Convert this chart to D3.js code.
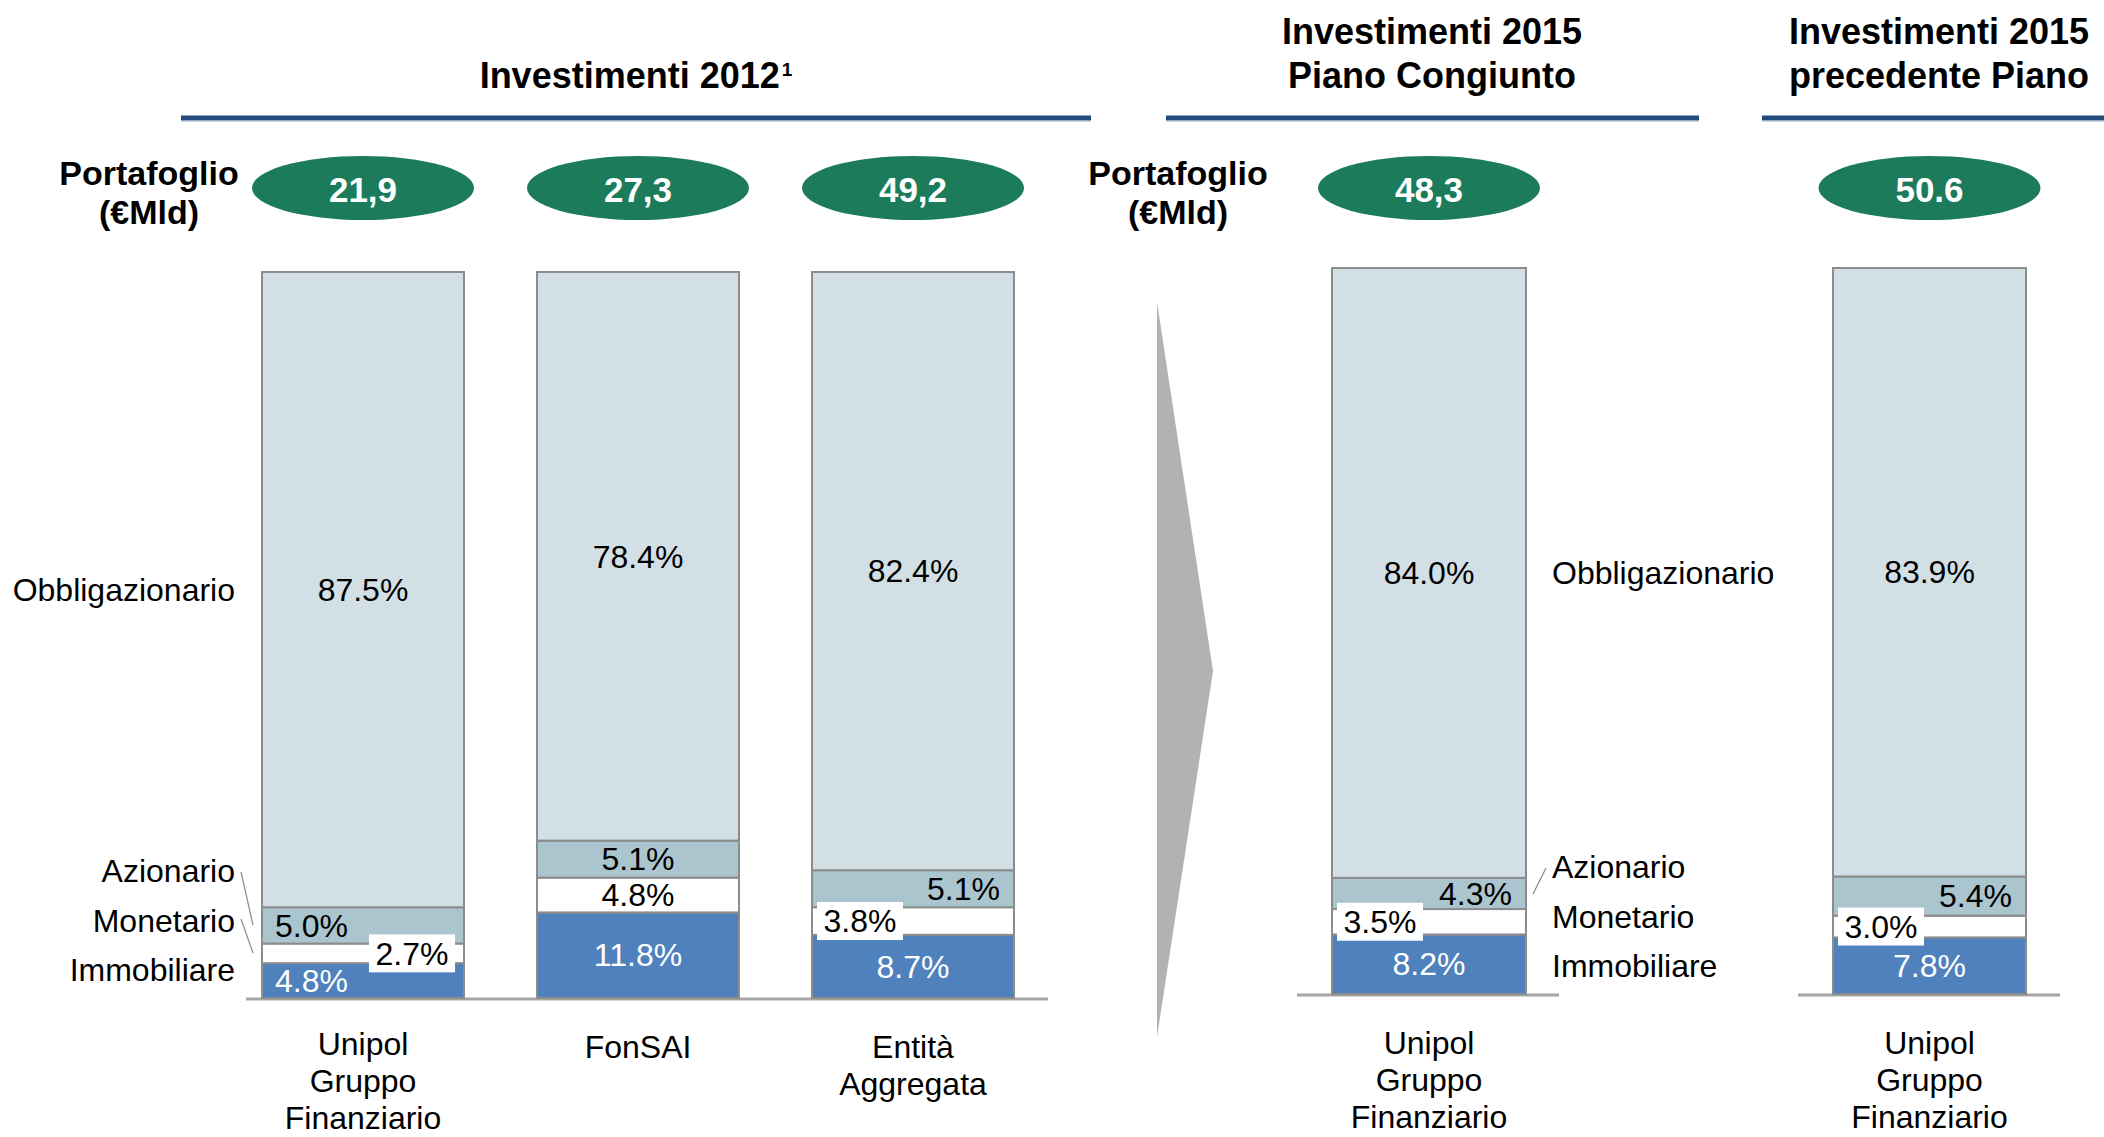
<!DOCTYPE html>
<html lang="it">
<head>
    <meta charset="UTF-8">
    <script src="https://d3js.org/d3.v7.min.js"></script>
    <title>Investimenti 2012 - 2015</title>
    <style>
        body { margin: 0; background: #fff; }
        svg { display: block; font-family: "Liberation Sans", Arial, sans-serif; }
    </style>
</head>
<body>
<svg width="2104" height="1137"></svg>
<script>
// --- data ---
const series = ["Immobiliare", "Monetario", "Azionario", "Obbligazionario"];
const categories = [
    ["Unipol", "Gruppo", "Finanziario"],
    ["FonSAI"],
    ["Entità", "Aggregata"],
    ["Unipol", "Gruppo", "Finanziario"],
    ["Unipol", "Gruppo", "Finanziario"]
];
const portafoglio = ["21,9", "27,3", "49,2", "48,3", "50.6"];
const immobiliare = [4.8, 11.8, 8.7, 8.2, 7.8];
const monetario = [2.7, 4.8, 3.8, 3.5, 3.0];
const azionario = [5.0, 5.1, 5.1, 4.3, 5.4];
const obbligazionario = [87.5, 78.4, 82.4, 84.0, 83.9];
const groupTitles = [
    ["Investimenti 2012"],
    ["Investimenti 2015", "Piano Congiunto"],
    ["Investimenti 2015", "precedente Piano"]
];
const groupBars = [[0, 1, 2], [3], [4]];
const portLabel = ["Portafoglio", "(€Mld)"];

// --- layout / style ---
const colors = {
    Immobiliare: "#4f81bd",
    Monetario: "#ffffff",
    Azionario: "#abc5ce",
    Obbligazionario: "#d2dfe5"
};
const panels = [
    {x0: 262, x1: 1014, base: 998, axis: [246, 1048], rule: [181, 1091], titleX: 636},
    {x0: 1332, x1: 1526, base: 994, axis: [1297, 1559], rule: [1166, 1699], titleX: 1432},
    {x0: 1833, x1: 2026, base: 994, axis: [1798, 2060], rule: [1762, 2104], titleX: 1939}
];
// how each percentage label sits in its segment
const labelPos = [
    ["left", "boxRight", "left", "center"],
    ["center", "center", "center", "center"],
    ["center", "boxLeft", "right", "center"],
    ["center", "boxLeft", "right", "center"],
    ["center", "boxLeft", "right", "center"]
];
const barH = 726;

const svg = d3.select("svg");
const fmt = d3.format(".1f");

const rows = categories.map((c, i) => ({
    Immobiliare: immobiliare[i],
    Monetario: monetario[i],
    Azionario: azionario[i],
    Obbligazionario: obbligazionario[i]
}));
const stacked = d3.stack().keys(series).offset(d3.stackOffsetExpand)(rows);

// scales per bar
const xOf = [], yOf = [], wOf = [];
panels.forEach((p, gi) => {
    const bars = groupBars[gi];
    const band = d3.scaleBand().domain(bars).range([p.x0, p.x1])
        .paddingInner(bars.length > 1 ? 0.2655 : 0);
    const y = d3.scaleLinear().domain([0, 1]).range([p.base, p.base - barH]);
    bars.forEach(b => { xOf[b] = band(b); wOf[b] = band.bandwidth(); yOf[b] = y; });
});

// titles and rules
panels.forEach((p, gi) => {
    const t = svg.append("text")
        .attr("text-anchor", "middle")
        .attr("font-weight", "bold")
        .attr("font-size", 36)
        .attr("fill", "#000");
    const lines = groupTitles[gi];
    lines.forEach((l, li) => {
        t.append("tspan").attr("x", p.titleX)
            .attr("y", 88 - (lines.length - 1 - li) * 44).text(l);
    });
    if (gi === 0) {
        t.append("tspan").attr("font-size", 19).attr("dx", 2).attr("dy", -12).text("1");
    }
    svg.append("line")
        .attr("x1", p.rule[0]).attr("x2", p.rule[1])
        .attr("y1", 118).attr("y2", 118)
        .attr("stroke", "#234a7d").attr("stroke-width", 5);
    svg.append("line")
        .attr("x1", p.rule[0]).attr("x2", p.rule[1])
        .attr("y1", 121).attr("y2", 121)
        .attr("stroke", "#9fb3cc").attr("stroke-width", 1);
});

// Portafoglio labels
[149, 1178].forEach(cx => {
    svg.append("text").attr("text-anchor", "middle")
        .attr("font-weight", "bold").attr("font-size", 34)
        .selectAll("tspan").data(portLabel).join("tspan")
        .attr("x", cx).attr("y", (d, i) => 185 + i * 39).text(d => d);
});

// ellipses with portfolio size
const ell = svg.append("g").selectAll("g").data(portafoglio).join("g")
    .attr("transform", (d, i) => `translate(${xOf[i] + wOf[i] / 2},188)`);
ell.append("ellipse").attr("rx", 111).attr("ry", 32).attr("fill", "#1b7b5a");
ell.append("text").attr("text-anchor", "middle").attr("dy", "0.35em").attr("y", 2)
    .attr("font-weight", "bold").attr("font-size", 35).attr("fill", "#fff")
    .text(d => d);

// arrow between groups
svg.append("path")
    .attr("d", d3.line()([[1157, 302], [1213, 671], [1157, 1037]]) + "Z")
    .attr("fill", "#b2b2b2");

// base lines
panels.forEach(p => {
    svg.append("line")
        .attr("x1", p.axis[0]).attr("x2", p.axis[1])
        .attr("y1", p.base + 1).attr("y2", p.base + 1)
        .attr("stroke", "#a6a6a6").attr("stroke-width", 3);
});

// stacked bars
const layers = svg.append("g").selectAll("g").data(stacked).join("g")
    .attr("fill", d => colors[d.key]);
layers.selectAll("rect").data(d => d).join("rect")
    .attr("x", (d, i) => xOf[i])
    .attr("width", (d, i) => wOf[i])
    .attr("y", (d, i) => yOf[i](d[1]))
    .attr("height", (d, i) => yOf[i](d[0]) - yOf[i](d[1]))
    .attr("stroke", "#8c8c8c").attr("stroke-width", 2);

// percentage labels
const labG = svg.append("g").attr("font-size", 32);
stacked.forEach((layer, si) => {
    layer.forEach((d, i) => {
        const pos = labelPos[i][si];
        const cy = yOf[i]((d[0] + d[1]) / 2);
        const val = rows[i][layer.key];
        let x = xOf[i] + wOf[i] / 2, anchor = "middle";
        if (pos === "left") { x = xOf[i] + 13; anchor = "start"; }
        if (pos === "right") { x = xOf[i] + wOf[i] - 14; anchor = "end"; }
        if (pos === "boxLeft") x = xOf[i] + 5 + 43;
        if (pos === "boxRight") x = xOf[i] + wOf[i] - 9 - 43;
        if (pos.startsWith("box")) {
            labG.append("rect").attr("x", x - 43).attr("y", cy - 19)
                .attr("width", 86).attr("height", 38).attr("fill", "#fff");
        }
        labG.append("text").attr("x", x).attr("y", cy).attr("dy", "0.35em")
            .attr("text-anchor", anchor)
            .attr("fill", layer.key === "Immobiliare" ? "#fff" : "#000")
            .text(fmt(val) + "%");
    });
});

// category labels
categories.forEach((lines, i) => {
    const base = yOf[i](0);
    svg.append("text").attr("text-anchor", "middle").attr("font-size", 32)
        .selectAll("tspan").data(lines).join("tspan")
        .attr("x", xOf[i] + wOf[i] / 2)
        .attr("y", (d, li) => Math.min(base + 60 + li * 37, 1129 - (lines.length - 1 - li) * 37))
        .text(d => d);
});

// series legends beside the bars
const legendOff = {Azionario: 127, Monetario: 77, Immobiliare: 28};
const legends = [
    {bar: 0, x: 235, anchor: "end",
     leaders: [[[241, 872], [253, 925]], [[241, 919], [253, 953]]]},
    {bar: 3, x: 1552, anchor: "start",
     leaders: [[[1546, 868], [1533, 894]]]}
];
legends.forEach(lg => {
    const i = lg.bar;
    const g = svg.append("g").attr("font-size", 32).attr("text-anchor", lg.anchor);
    series.slice().reverse().forEach(s => {
        const cy = s === "Obbligazionario"
            ? yOf[i]((stacked[3][i][0] + stacked[3][i][1]) / 2)
            : yOf[i](0) - legendOff[s];
        g.append("text").attr("x", lg.x).attr("y", cy).attr("dy", "0.35em").text(s);
    });
    lg.leaders.forEach(l => {
        svg.append("path").attr("d", d3.line()(l))
            .attr("stroke", "#8c8c8c").attr("stroke-width", 1.2).attr("fill", "none");
    });
});
</script>
</body>
</html>
